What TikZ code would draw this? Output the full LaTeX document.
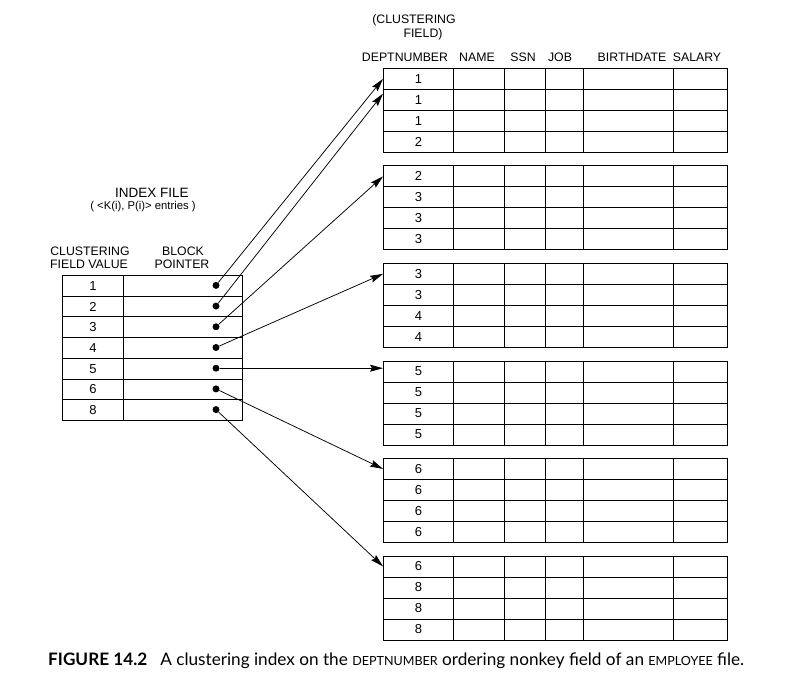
\documentclass[tikz,border=0pt]{standalone}
\usepackage{fontspec}
\setmainfont{Liberation Sans}
\newfontfamily\capfont{Lato}
\usetikzlibrary{arrows.meta,calc}
\tikzset{
  lab/.style={inner sep=0pt, font=\fontsize{12.3}{13}\selectfont},
  cell/.style={draw, line width=0.8pt, minimum height=21, minimum width=#1, inner sep=0pt, anchor=north west, font=\fontsize{13}{14}\selectfont},
  icell/.style={draw, line width=0.8pt, minimum height=20.71, minimum width=#1, inner sep=0pt, anchor=north west, font=\fontsize{13}{14}\selectfont},
  dot/.style={circle, fill=black, inner sep=0pt, minimum size=7},
  arr/.style={line width=0.75pt, -{Stealth[length=13pt,width=7pt,inset=2pt]}},
}
\begin{document}
\begin{tikzpicture}[x=1pt,y=-1pt]
\useasboundingbox (0,0) rectangle (800,676);
% data file blocks
\foreach \bk/\tp/\va/\vb/\vc/\vd in {1/68/1/1/1/2, 2/165.5/2/3/3/3, 3/263/3/3/4/4, 4/360.5/5/5/5/5, 5/458/6/6/6/6, 6/555.5/6/8/8/8}{
  \foreach \rr/\val in {1/\va,2/\vb,3/\vc,4/\vd}{
    \pgfmathsetmacro\yy{\tp+21*(\rr-1)}
    \node[cell=70] (b\bk r\rr) at (383,\yy) {\val};
    \foreach \xx/\ww [count=\cc from 2] in {453/51,504/41,545/38,583/90,673/54}
      \node[cell=\ww] (b\bk r\rr c\cc) at (\xx,\yy) {};
  }
}
% header
\node[lab] (hcl) at (414,20) {(CLUSTERING};
\node[lab] (hfi) at (423,34) {FIELD)};
\node[lab] (hdept) at (405,57) {DEPTNUMBER};
\node[lab] (hname) at (477,57) {NAME};
\node[lab] (hssn) at (523,57) {SSN};
\node[lab] (hjob) at (560,57) {JOB};
\node[lab] (hbirth) at (632,57) {BIRTHDATE};
\node[lab] (hsal) at (697,57) {SALARY};
% index file
\node[lab, font=\fontsize{13.5}{14}\selectfont] (ititle) at (152,193) {INDEX FILE};
\node[lab, font=\fontsize{11.3}{12}\selectfont] (isub) at (143,207) {( <K(i), P(i)> entries )};
\node[lab] (icl) at (90,251) {CLUSTERING};
\node[lab] (ifv) at (89,264) {FIELD VALUE};
\node[lab] (ibl) at (183,251) {BLOCK};
\node[lab] (ipt) at (182,264) {POINTER};
\foreach \val [count=\rr] in {1,2,3,4,5,6,8}{
  \pgfmathsetmacro\yy{275+20.71*(\rr-1)}
  \node[icell=61] (k\rr) at (62,\yy) {\val};
  \node[icell=119] (p\rr) at (123,\yy) {};
  \node[dot] (d\rr) at (216,\yy+10.36) {};
}
% pointers
\draw[arr] (d1) -- (b1r1.west);
\draw[arr] (d2) -- (b1r2.170);
\draw[arr] (d3) -- (b2r1.west);
\draw[arr] (d4) -- (b3r1.west);
\draw[arr] (d5) -- (d5 -| b4r1.west);
\draw[arr] (d6) -- (b5r1.west);
\draw[arr] (d7) -- (b6r1.west);
% caption
\node[anchor=west, inner sep=0pt] (cap) at (48,661) {\resizebox{696pt}{!}{\capfont\fontsize{13}{14}\selectfont\textbf{FIGURE 14.2}\hspace{0.5em} A clustering index on the {\fontsize{9.5}{10}\selectfont DEPTNUMBER} ordering nonkey field of an {\fontsize{9.5}{10}\selectfont EMPLOYEE} file.}};
\end{tikzpicture}
\end{document}
